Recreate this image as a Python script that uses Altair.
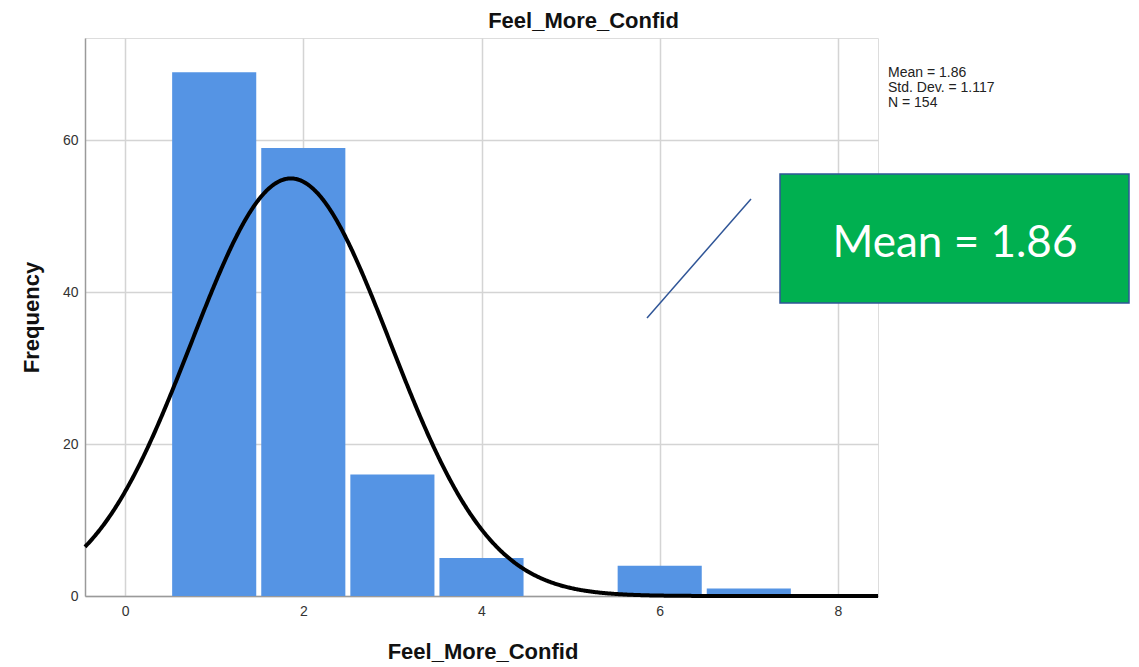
import altair as alt
import pandas as pd

# ---- data ----
values = [1, 2, 3, 4, 5, 6, 7]
freqs = [69, 59, 16, 5, 0, 4, 1]
mean_v = 1.86
sd_v = 1.117
n_v = 154
x_ticks = [0, 2, 4, 6, 8]
y_ticks = [0, 20, 40, 60]
stats_lines = ["Mean = 1.86", "Std. Dev. = 1.117", "N = 154"]
callout_text = "Mean = 1.86"
title_text = "Feel_More_Confid"

bars_df = pd.DataFrame({"value": values, "freq": freqs})
bars_df = bars_df[bars_df["freq"] > 0]
bars_df["lo"] = bars_df["value"] - 0.5
bars_df["hi"] = bars_df["value"] + 0.5

W, H = 793, 558
FONT = "Liberation Sans"

xscale = alt.Scale(domain=[-0.45, 8.45], nice=False, zero=False)
yscale = alt.Scale(domain=[0, 73.5], nice=False)

bars = alt.Chart(bars_df).mark_rect(
    color="#5594E4", xOffset=2.5, x2Offset=-2.5
).encode(
    x=alt.X("lo:Q", scale=xscale, axis=alt.Axis(
        values=x_ticks, format="d", title=title_text, grid=True, gridColor="#D4D4D4", gridWidth=1.5,
        ticks=False, domainColor="#9A9A9A", domainWidth=1.5,
        labelFont=FONT, labelFontSize=14, labelColor="#333333", labelPadding=8,
        titleFont=FONT, titleFontSize=22, titleFontWeight="bold", titleColor="#111111",
        titleBaseline="alphabetic", titleY=62, titleX=W / 2 + 1,
    )),
    x2="hi:Q",
    y=alt.Y("freq:Q", scale=yscale, axis=alt.Axis(
        values=y_ticks, format="d", title="Frequency", grid=True, gridColor="#D4D4D4", gridWidth=1.5,
        ticks=False, domainColor="#9A9A9A", domainWidth=1.5,
        labelFont=FONT, labelFontSize=14, labelColor="#333333", labelPadding=7,
        titleFont=FONT, titleFontSize=22, titleFontWeight="bold", titleColor="#111111",
        titleBaseline="alphabetic", titleAngle=270, titleX=-47, titleY=H / 2,
    )),
    y2=alt.datum(0),
)

curve = alt.Chart(alt.sequence(-0.45, 8.451, 0.01, as_="x")).transform_calculate(
    y=f"{n_v} * exp(-0.5 * pow((datum.x - {mean_v}) / {sd_v}, 2)) / ({sd_v} * sqrt(2 * PI))"
).mark_line(color="#000000", strokeWidth=4).encode(
    x=alt.X("x:Q", scale=xscale),
    y=alt.Y("y:Q", scale=yscale),
)

stats = alt.Chart(pd.DataFrame({"t": ["\n".join(stats_lines)]})).mark_text(
    font=FONT, fontSize=14, color="#222222", align="left", baseline="top",
    lineBreak="\n", lineHeight=15,
).encode(x=alt.value(803), y=alt.value(28), text="t:N")

pointer = alt.Chart(pd.DataFrame({"a": [0]})).mark_rule(
    color="#2F5597", strokeWidth=1.5
).encode(x=alt.value(666), y=alt.value(161), x2=alt.value(562), y2=alt.value(280))

box = alt.Chart(pd.DataFrame({"a": [0]})).mark_rect(
    color="#00B050", stroke="#2F5597", strokeWidth=1.5
).encode(x=alt.value(695), x2=alt.value(1044), y=alt.value(136), y2=alt.value(265))

callout = alt.Chart(pd.DataFrame({"t": [callout_text]})).mark_text(
    font="Lato", fontSize=44, color="#FFFFFF", align="center", baseline="alphabetic",
).encode(x=alt.value(870), y=alt.value(219), text="t:N")

chart = alt.layer(bars, curve, stats, pointer, box, callout).properties(
    width=W, height=H,
    title=alt.Title(title_text, font=FONT, fontSize=22, fontWeight="bold", color="#111111",
                    anchor="middle", dx=102, dy=22, baseline="alphabetic", offset=10),
    autosize=alt.AutoSizeParams(type="none"),
    padding={"left": 77, "top": 30, "right": 253, "bottom": 68},
).configure_view(stroke=None).configure(background="#FFFFFF")

chart.save("out.html", embed_options={"renderer": "svg", "actions": False})
